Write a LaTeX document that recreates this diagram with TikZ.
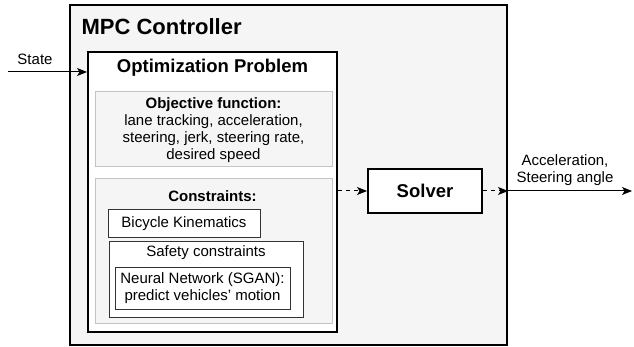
\documentclass[tikz,border=0pt]{standalone}
\usepackage{fontspec}
\setmainfont{Liberation Sans}
\usetikzlibrary{arrows.meta,positioning}
\definecolor{panelgray}{HTML}{F5F5F5}
\definecolor{edgegray}{HTML}{C4C4C4}
\definecolor{boxline}{HTML}{333333}
\tikzstyle{arrow} = [line width=1pt,-{Stealth[length=10pt,width=8pt,inset=2.5pt]}]
\tikzstyle{dasharrow} = [arrow,dash pattern=on 4pt off 4pt]
\tikzstyle{bigbox} = [draw=black,line width=2pt,inner sep=0pt]
\tikzstyle{softbox} = [draw=edgegray,fill=panelgray,line width=1pt,inner sep=0pt]
\tikzstyle{thinbox} = [draw=boxline,fill=white,line width=1pt,inner sep=0pt,align=center]
\newcommand{\bodyfont}{\fontsize{15}{17}\selectfont}
\newcommand{\headfont}{\fontsize{18.5}{22}\selectfont\bfseries}

\begin{document}
\begin{tikzpicture}[x=1pt,y=-1pt,font=\bodyfont]
        \useasboundingbox (0,0) rectangle (634,347);
        % containers
        \node[bigbox,fill=panelgray,minimum width=437,minimum height=340] (mpc) at (288.5,175) {};
        \node[anchor=west,font=\fontsize{22}{26}\selectfont\bfseries] (mpctitle) at (78,27) {MPC Controller};
        \node[bigbox,fill=white,minimum width=249,minimum height=280] (opt) at (212.5,192) {};
        \node[font=\headfont] (opttitle) at (212.5,68) {Optimization Problem};
        % objective
        \node[softbox,minimum width=237,minimum height=75] (obj) at (213.5,129.5) {};
        \node[align=center] (objtext) at (213.5,130.5) {\textbf{Objective function:}\\lane tracking, acceleration,\\steering, jerk, steering rate,\\desired speed};
        % constraints
        \node[softbox,minimum width=237,minimum height=144] (cons) at (213.5,251) {};
        \node (constitle) at (212.5,196) {\textbf{Constraints:}};
        \node[thinbox,minimum width=152,minimum height=28] (bike) at (184,224) {Bicycle Kinematics};
        \node[thinbox,minimum width=194,minimum height=75] (safety) at (206,279.5) {};
        \node (safetytitle) at (206,253) {Safety constraints};
        \node[thinbox,minimum width=175,minimum height=42] (nn) at (202.5,288.5) {Neural Network (SGAN):\\predict vehicles' motion};
        % solver
        \node[bigbox,fill=white,minimum width=114,minimum height=44,font=\headfont] (solver) at (425,191) {Solver};
        % signals
        \coordinate (statein) at (8,72);
        \coordinate (cmdout) at (632,191);
        \draw[arrow] (statein) -- (statein -| opt.west);
        \node (statelabel) at (35,59) {State};
        \draw[dasharrow] (opt.east |- solver.west) -- (solver.west);
        \draw[dasharrow] (solver.east) -- (mpc.east |- solver.east);
        \draw[arrow] (mpc.east |- solver.east) -- (cmdout);
        \node[align=center] (cmdlabel) at (565,170.5) {Acceleration,\\Steering angle};
    \end{tikzpicture}
\end{document}
